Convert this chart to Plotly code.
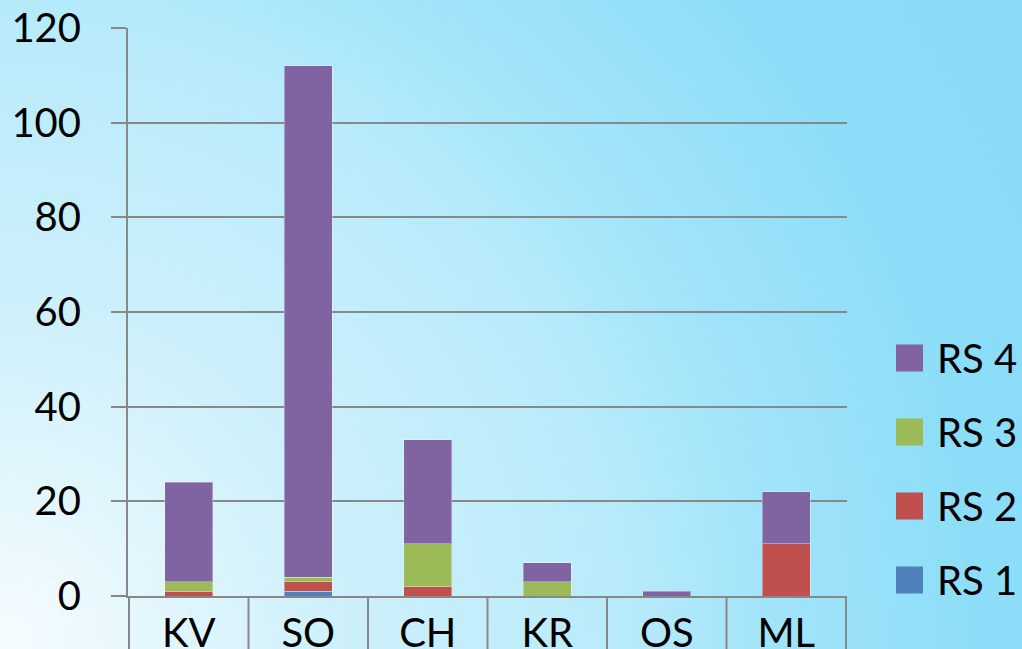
import zlib, struct, base64, math
import plotly.graph_objects as go

categories = ["KV", "SO", "CH", "KR", "OS", "ML"]
rs1 = [0, 1, 0, 0, 0, 0]
rs2 = [1, 2, 2, 0, 0, 11]
rs3 = [2, 1, 9, 3, 0, 0]
rs4 = [21, 108, 22, 4, 1, 11]
series_names = ["RS 1", "RS 2", "RS 3", "RS 4"]
series_values = [rs1, rs2, rs3, rs4]
colors = ["#4F81BD", "#C0504D", "#9BBB59", "#8064A2"]
y_ticks = [0, 20, 40, 60, 80, 100, 120]

W, H = 1022, 649
L, R, T, B = 128, 175, 28, 53
PW, PH = W - L - R, H - T - B
FONT = "Lato"

# ---- background radial gradient as an embedded PNG ----
stops = [(0.0, (246, 252, 254)), (0.3, (205, 240, 251)), (0.54, (185, 235, 251)),
         (0.67, (162, 228, 250)), (0.86, (140, 221, 248)), (1.0, (137, 219, 247))]

def grad(t):
    if t <= 0:
        return stops[0][1]
    for (t0, c0), (t1, c1) in zip(stops, stops[1:]):
        if t <= t1:
            f = (t - t0) / (t1 - t0)
            return tuple(int(round(a + (b - a) * f)) for a, b in zip(c0, c1))
    return stops[-1][1]

def make_png(w, h):
    rows = []
    for j in range(h):
        row = bytearray([0])
        for i in range(w):
            px = i / (w - 1) * W
            py = j / (h - 1) * H
            d = math.hypot(px, H - py) / 1150.0
            row += bytes(grad(d))
        rows.append(bytes(row))
    raw = b"".join(rows)

    def chunk(t, d):
        c = struct.pack(">I", len(d)) + t + d
        return c + struct.pack(">I", zlib.crc32(t + d) & 0xffffffff)
    return (b"\x89PNG\r\n\x1a\n" + chunk(b"IHDR", struct.pack(">IIBBBBB", w, h, 8, 2, 0, 0, 0))
            + chunk(b"IDAT", zlib.compress(raw)) + chunk(b"IEND", b""))

bg_uri = "data:image/png;base64," + base64.b64encode(make_png(256, 163)).decode()

fig = go.Figure()
for name, vals, col in zip(series_names, series_values, colors):
    fig.add_trace(go.Bar(x=categories, y=vals, name=name, marker_color=col,
                         marker_line=dict(color="rgba(255,255,255,0.35)", width=1),
                         showlegend=False))

shapes = []
# category boundary tick lines
for i in range(len(categories) + 1):
    shapes.append(dict(type="line", xref="x", yref="paper", x0=i - 0.5, x1=i - 0.5,
                       y0=0, y1=-0.12, line=dict(color="#888888", width=2)))

annotations = []
# manual legend (top: RS 4)
leg_x0 = (896 - L) / PW
sq_w = 27 / PW
sq_h = 27 / PH
leg_top = (596 - 358) / PH
leg_step = 74 / PH
for k, (name, col) in enumerate(zip(series_names[::-1], colors[::-1])):
    yc = leg_top - k * leg_step
    shapes.append(dict(type="rect", xref="paper", yref="paper", x0=leg_x0, x1=leg_x0 + sq_w,
                       y0=yc - sq_h / 2, y1=yc + sq_h / 2, fillcolor=col, line=dict(width=0)))
    annotations.append(dict(xref="paper", yref="paper", x=(935 - L) / PW, y=yc, xanchor="left",
                            yanchor="middle", text=name, showarrow=False,
                            font=dict(family=FONT, size=40, color="#000000")))

fig.update_layout(
    width=W, height=H,
    barmode="stack", bargap=0.6,
    margin=dict(l=L, r=R, t=T, b=B, autoexpand=False),
    paper_bgcolor="#b9ebfb",
    plot_bgcolor="rgba(0,0,0,0)",
    font=dict(family=FONT, size=40, color="#000000"),
    showlegend=False,
    shapes=shapes,
    annotations=annotations,
    images=[dict(source=bg_uri, xref="paper", yref="paper", x=-L / PW, y=1 + T / PH,
                 sizex=W / PW, sizey=H / PH, sizing="stretch", layer="below",
                 xanchor="left", yanchor="top")],
)
fig.update_xaxes(showline=True, linecolor="#888888", linewidth=2, ticks="",
                 showgrid=False, tickfont=dict(size=40), ticklabelstandoff=1,
                 automargin=False)
fig.update_yaxes(range=[0, 120], tickvals=y_ticks, showgrid=True, gridcolor="#888888",
                 gridwidth=2, showline=True, linecolor="#888888", linewidth=2,
                 ticks="outside", ticklen=15, tickwidth=2, tickcolor="#888888",
                 ticklabelstandoff=22, tickfont=dict(size=40), zeroline=False,
                 automargin=False)

fig.write_html("out.html", config={"displayModeBar": False},
               post_script="document.body.style.margin='0px';document.body.style.overflow='hidden';")
